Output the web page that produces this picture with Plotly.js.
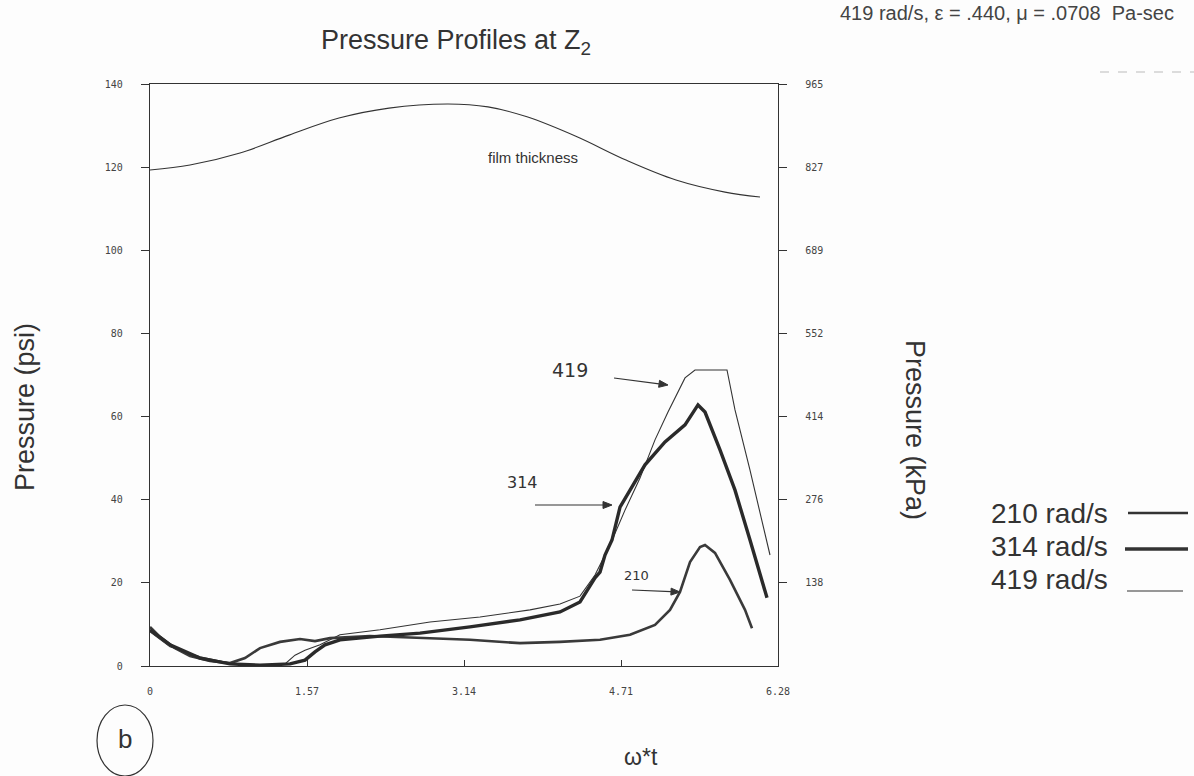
<!DOCTYPE html>
<html>
<head>
<meta charset="utf-8">
<script src="https://cdn.plot.ly/plotly-3.0.1.min.js"></script>
<style>
  html, body { margin: 0; padding: 0; background: #fdfdfd; }
  #chart { width: 1194px; height: 776px; }
</style>
</head>
<body>
<div id="chart"></div>
<script>
// Pressure traces over one revolution (omega*t in rad, pressure in psi)
const x210 = [0, 0.10, 0.25, 0.40, 0.60, 0.80, 0.95, 1.10, 1.30, 1.50, 1.65, 1.80, 2.20, 2.70, 3.20, 3.70, 4.10, 4.50, 4.80, 5.05, 5.20, 5.30, 5.40, 5.50, 5.55, 5.65, 5.80, 5.95, 6.02];
const p210 = [9.4, 7.0, 4.3, 2.4, 1.2, 0.7, 1.9, 4.3, 5.8, 6.5, 6.0, 6.7, 7.2, 6.7, 6.3, 5.5, 5.8, 6.3, 7.5, 9.9, 13.5, 17.8, 25.0, 28.6, 29.1, 27.2, 20.7, 13.5, 9.1];

const x314 = [0, 0.2, 0.5, 0.8, 1.1, 1.4, 1.55, 1.65, 1.75, 1.9, 2.3, 2.7, 3.2, 3.7, 4.1, 4.3, 4.45, 4.5, 4.55, 4.62, 4.7, 4.8, 4.95, 5.15, 5.35, 5.48, 5.55, 5.7, 5.85, 6.0, 6.1, 6.17];
const p314 = [8.7, 5.1, 1.9, 0.5, 0.2, 0.5, 1.4, 3.4, 5.1, 6.3, 7.2, 7.9, 9.4, 11.1, 13.0, 15.4, 21.2, 22.6, 26.7, 30.3, 38.2, 42.3, 48.4, 53.9, 58.0, 62.8, 61.1, 52.0, 42.3, 30.3, 21.9, 16.4];

const x419 = [0, 0.2, 0.5, 0.8, 1.1, 1.35, 1.45, 1.55, 1.7, 1.9, 2.3, 2.8, 3.3, 3.8, 4.1, 4.3, 4.45, 4.6, 4.75, 4.9, 5.05, 5.18, 5.35, 5.45, 5.77, 5.85, 6.0, 6.2];
const p419 = [8.2, 4.6, 2.2, 0.7, 0.2, 0.5, 2.6, 3.8, 5.1, 7.5, 8.7, 10.6, 11.8, 13.5, 14.9, 16.8, 21.9, 29.1, 37.5, 45.2, 54.4, 61.1, 69.3, 71.2, 71.2, 61.6, 47.1, 26.7];

// Film thickness trace, drawn on the same vertical scale
const xFilm = [0, 0.40, 0.90, 1.39, 1.89, 2.39, 2.98, 3.38, 3.77, 4.27, 4.76, 5.26, 5.75, 6.10];
const pFilm = [119.3, 120.5, 123.4, 127.7, 131.8, 134.2, 135.2, 134.5, 132.1, 127.3, 121.7, 116.9, 114.0, 112.8];

// Axis ticks: psi on the left, the same levels in kPa on the right
const xTicks = [0, 1.57, 3.14, 4.71, 6.28];
const xTickText = ['0', '1.57', '3.14', '4.71', '6.28'];
const psiTicks = [0, 20, 40, 60, 80, 100, 120, 140];
const kPaTicks = [20, 40, 60, 80, 100, 120, 140];
const kPaText = ['138', '276', '414', '552', '689', '827', '965'];

// Legend entries
const legendLabels = ['210 rad/s', '314 rad/s', '419 rad/s'];

const ink = '#333333';
const W = 1194, H = 776;
const L = 150, R = 778, T = 84, B = 666;
// pixel -> paper helpers for free-standing text and shapes
const px = v => (v - L) / (R - L);
const py = v => (B - v) / (B - T);

const traces = [
  { x: xFilm, y: pFilm, mode: 'lines', line: { color: ink, width: 1.1, shape: 'spline' }, hoverinfo: 'skip' },
  { x: x419, y: p419, mode: 'lines', line: { color: ink, width: 1.1 }, name: legendLabels[2] },
  { x: x210, y: p210, mode: 'lines', line: { color: '#3a3a3a', width: 2.6 }, name: legendLabels[0] },
  { x: x314, y: p314, mode: 'lines', line: { color: '#2a2a2a', width: 3.4 }, name: legendLabels[1] },
  // carrier for the kPa axis
  { x: [0], y: [0], yaxis: 'y2', mode: 'none', hoverinfo: 'skip' }
];

const sans = 'Liberation Sans, Arial, sans-serif';
const tickFont = { family: 'DejaVu Sans Mono', size: 10, color: '#444' };
const bigFont = { family: sans, size: 27, color: ink };

// free text placed by pixel centre
const note = (text, x, y, font, extra) => Object.assign({
  text: text, xref: 'paper', yref: 'paper', x: px(x), y: py(y),
  xanchor: 'center', yanchor: 'middle', showarrow: false, font: font
}, extra || {});

const annotations = [
  // axis titles
  note('Pressure (psi)', 25, 407, bigFont, { textangle: -90 }),
  note('Pressure (kPa)', 915, 430, bigFont, { textangle: 90 }),
  note('ω*t', 641, 757, { family: sans, size: 23, color: ink }),
  // run conditions
  note('419 rad/s, ε = .440, μ = .0708  Pa-sec', 1176, 13, { family: sans, size: 20, color: '#444' }, { xanchor: 'right' }),
  // curve labels
  { text: 'film thickness', x: 3.83, y: 122.4, xanchor: 'center', yanchor: 'middle', showarrow: false, font: { family: sans, size: 15, color: ink } },
  note('419', 570, 370, { family: 'DejaVu Sans', size: 19, color: ink }),
  note('314', 522, 482, { family: 'DejaVu Sans', size: 16, color: ink }),
  note('210', 636, 575, { family: 'DejaVu Sans', size: 13, color: ink }),
  // panel letter
  note('b', 125, 739, { family: sans, size: 26, color: ink })
];

const shapes = [
  { type: 'circle', xref: 'paper', yref: 'paper', x0: px(97), x1: px(153), y0: py(705), y1: py(776), line: { color: ink, width: 1.2 } },
  { type: 'line', xref: 'paper', yref: 'paper', x0: px(1100), x1: px(1194), y0: py(72), y1: py(72), line: { color: '#bbb', width: 1, dash: 'dash' } }
];

// pointer arrows from the hand-written labels to their curves (pixel tail -> head)
const pointers = [[614, 378, 668, 385], [535, 505, 612, 505], [632, 590, 680, 592]];
pointers.forEach(([x0, y0, x1, y1]) => {
  const len = Math.hypot(x1 - x0, y1 - y0), ux = (x1 - x0) / len, uy = (y1 - y0) / len;
  const bx = x1 - ux * 9, by = y1 - uy * 9;
  shapes.push({ type: 'line', xref: 'paper', yref: 'paper', x0: px(x0), y0: py(y0), x1: px(bx), y1: py(by), line: { color: ink, width: 1.2 } });
  const pts = [[x1, y1], [bx - uy * 3.5, by + ux * 3.5], [bx + uy * 3.5, by - ux * 3.5]];
  shapes.push({ type: 'path', xref: 'paper', yref: 'paper', fillcolor: ink, line: { color: ink, width: 1 },
    path: 'M ' + pts.map(p => px(p[0]) + ',' + py(p[1])).join(' L ') + ' Z' });
});

// legend rows: text then a line sample in the matching weight
const legendY = [513, 546, 579];
const legendLineY = [513, 549, 591];
const legendW = [2.6, 3.6, 1.2];
const legendX = [[1128, 1188], [1125, 1188], [1127, 1183]];
legendLabels.forEach((lab, i) => {
  annotations.push(note(lab, 1110, legendY[i], { family: sans, size: 28, color: ink }, { xanchor: 'right' }));
  shapes.push({ type: 'line', xref: 'paper', yref: 'paper', x0: px(legendX[i][0]), x1: px(legendX[i][1]), y0: py(legendLineY[i]), y1: py(legendLineY[i]), line: { color: ink, width: legendW[i] } });
});

const layout = {
  width: W, height: H,
  margin: { l: L, r: W - R, t: T, b: H - B, pad: 0 },
  paper_bgcolor: '#fdfdfd', plot_bgcolor: '#fdfdfd',
  showlegend: false,
  title: { text: 'Pressure Profiles at Z<sub>2</sub>', x: 456 / W, xanchor: 'center', y: 1 - 40 / H, yanchor: 'middle', xref: 'container', yref: 'container',
           font: { family: sans, size: 27, color: ink } },
  xaxis: {
    range: [0, 6.28], tickvals: xTicks, ticktext: xTickText, ticks: 'inside', ticklen: 6, tickcolor: ink,
    showline: true, linecolor: ink, linewidth: 1.2, mirror: true, showgrid: false, zeroline: false,
    tickfont: tickFont, ticklabelstandoff: 16
  },
  yaxis: {
    range: [0, 140], tickvals: psiTicks, ticks: 'outside', ticklen: 8, tickcolor: ink,
    showline: true, linecolor: ink, linewidth: 1.2, showgrid: false, zeroline: false,
    tickfont: tickFont, ticklabelstandoff: 16
  },
  yaxis2: {
    overlaying: 'y', side: 'right', range: [0, 140], tickvals: kPaTicks, ticktext: kPaText,
    ticks: 'outside', ticklen: 8, tickcolor: ink, showline: true, linecolor: ink, linewidth: 1.2,
    showgrid: false, zeroline: false, tickfont: tickFont, ticklabelstandoff: 16
  },
  annotations: annotations,
  shapes: shapes
};

Plotly.newPlot('chart', traces, layout, { staticPlot: true, displayModeBar: false });
</script>
</body>
</html>
